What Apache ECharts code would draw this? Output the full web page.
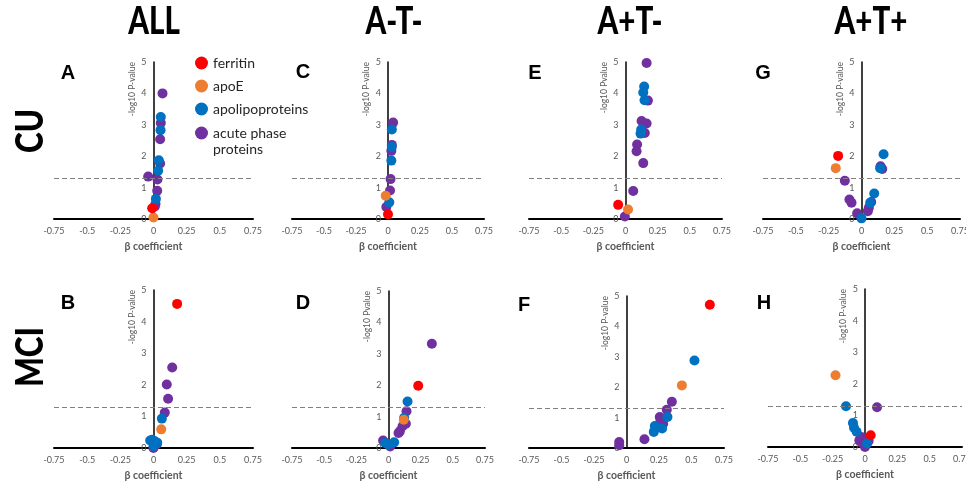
<!DOCTYPE html>
<html>
<head>
<meta charset="utf-8">
<script src="https://cdn.jsdelivr.net/npm/echarts@6/dist/echarts.min.js"></script>
<style>
html,body{margin:0;padding:0;background:#fff;}
#chart{width:966px;height:483px;}
</style>
</head>
<body>
<div id="chart"></div>
<script>
// ---- labels ----
const columnTitles = ['ALL', 'A-T-', 'A+T-', 'A+T+'];
const rowTitles = ['CU', 'MCI'];
const panelLetters = ['A', 'C', 'E', 'G', 'B', 'D', 'F', 'H'];
const yNames = ['-log10 P-value', '-log10 P-value', '-log10 Pvalue', '-log10 P-value',
                '-log10 P-value', '-log10 Pvalue', '-log10 P-value', '-log10 P-value'];
const xName = 'β coefficient';
const groupNames = ['ferritin', 'apoE', 'apolipoproteins', 'acute phase proteins'];
const threshold = 1.301; // -log10(0.05)

// ---- data: [β coefficient, -log10 P] ----
// A: CU / ALL
const A_ferritin = [[-0.01, 0.34]];
const A_apoE = [[0.0, 0.05]];
const A_apolipo = [[0.055, 3.25], [0.053, 2.83], [0.04, 1.87], [0.035, 1.54], [0.018, 0.64]];
const A_acute = [[0.068, 4.0], [0.055, 3.06], [0.05, 2.54], [0.05, 1.77], [-0.04, 1.35], [0.03, 1.26], [0.028, 0.9], [0.015, 0.48], [0.01, 0.4]];
// C: CU / A-T-
const C_ferritin = [[0.0, 0.15]];
const C_apoE = [[-0.018, 0.74]];
const C_apolipo = [[0.03, 2.85], [0.03, 2.3], [0.026, 1.86], [0.01, 0.53]];
const C_acute = [[0.04, 3.07], [0.03, 2.36], [0.026, 2.17], [0.02, 1.27], [0.016, 0.91], [-0.013, 0.38]];
// E: CU / A+T-
const E_ferritin = [[-0.057, 0.45]];
const E_apoE = [[0.02, 0.3]];
const E_apolipo = [[0.145, 4.22], [0.138, 4.03], [0.148, 3.78], [0.122, 2.85], [0.117, 2.72]];
const E_acute = [[0.164, 4.97], [0.174, 3.77], [0.125, 3.12], [0.164, 3.04], [0.15, 2.74], [0.09, 2.37], [0.086, 2.16], [0.138, 1.78], [0.06, 0.89], [-0.005, 0.08]];
// G: CU / A+T+
const G_ferritin = [[-0.178, 2.01]];
const G_apoE = [[-0.196, 1.62]];
const G_apolipo = [[0.168, 2.06], [0.142, 1.62], [0.097, 0.81], [0.066, 0.52], [0.0, 0.02]];
const G_acute = [[-0.127, 1.22], [0.145, 1.68], [0.158, 1.59], [-0.092, 0.62], [-0.076, 0.52], [0.074, 0.54], [0.056, 0.36], [0.048, 0.25], [-0.033, 0.18]];
// B: MCI / ALL
const B_ferritin = [[0.178, 4.56]];
const B_apoE = [[0.058, 0.59]];
const B_apolipo = [[0.063, 0.93], [-0.025, 0.24], [-0.01, 0.26], [0.01, 0.21], [0.028, 0.17], [0.0, 0.06]];
const B_acute = [[0.141, 2.55], [0.1, 2.01], [0.11, 1.56], [0.085, 1.12], [0.005, 0.14], [0.025, 0.12], [0.0, 0.0]];
// D: MCI / A-T-
const D_ferritin = [[0.231, 1.98]];
const D_apoE = [[0.119, 0.9]];
const D_apolipo = [[0.148, 1.48], [0.122, 0.96], [-0.026, 0.16], [0.044, 0.18], [-0.005, 0.12]];
const D_acute = [[0.337, 3.32], [0.14, 1.17], [0.135, 0.77], [0.109, 0.69], [0.088, 0.53], [0.078, 0.48], [-0.042, 0.24], [0.013, 0.05]];
// F: MCI / A+T-
const F_ferritin = [[0.641, 4.71]];
const F_apoE = [[0.426, 2.06]];
const F_apolipo = [[0.523, 2.88], [0.315, 1.02], [0.218, 0.72], [0.274, 0.64], [0.21, 0.53]];
const F_acute = [[0.349, 1.52], [0.31, 1.26], [0.256, 1.02], [0.262, 0.91], [0.282, 0.8], [0.138, 0.29], [-0.056, 0.2], [-0.056, 0.09]];
// H: MCI / A+T+
const H_ferritin = [[0.044, 0.37]];
const H_apoE = [[-0.228, 2.27]];
const H_apolipo = [[-0.147, 1.29], [-0.093, 0.76], [-0.085, 0.61], [-0.065, 0.48], [0.016, 0.11]];
const H_acute = [[0.093, 1.26], [-0.044, 0.21], [-0.03, 0.32], [-0.018, 0.11], [0.028, 0.19], [0.0, 0.0]];

const panelData = {
  A: [A_ferritin, A_apoE, A_apolipo, A_acute],
  C: [C_ferritin, C_apoE, C_apolipo, C_acute],
  E: [E_ferritin, E_apoE, E_apolipo, E_acute],
  G: [G_ferritin, G_apoE, G_apolipo, G_acute],
  B: [B_ferritin, B_apoE, B_apolipo, B_acute],
  D: [D_ferritin, D_apoE, D_apolipo, D_acute],
  F: [F_ferritin, F_apoE, F_apolipo, F_acute],
  H: [H_ferritin, H_apoE, H_apolipo, H_acute]
};

// ---- layout & style ----
const colors = ['#FF0000', '#ED7D31', '#0070C0', '#7030A0'];
const X_MIN = -0.75, X_MAX = 0.75;
const gridBoxes = [
  {left: 54, top: 62, width: 199, height: 157},
  {left: 292, top: 62, width: 192, height: 157},
  {left: 529, top: 62, width: 193, height: 157},
  {left: 763, top: 62, width: 197, height: 157},
  {left: 54, top: 290, width: 199, height: 158},
  {left: 292, top: 291, width: 193, height: 157},
  {left: 529, top: 296, width: 195, height: 152},
  {left: 768, top: 289, width: 194, height: 158}
];
const letterPos = [[68, 73], [303, 72], [535, 73], [763, 73], [68, 303], [303, 303], [524, 305], [764, 303]];
const headerPos = [[154, 22], [394, 22], [630, 22], [871, 22]];
const rowPos = [[31, 131], [31, 357]];
const FONT = 'Lato, "Open Sans", sans-serif';
const HEAVY = 'Lato, "Liberation Sans", sans-serif';

const grids = [], xAxes = [], yAxes = [], series = [], graphics = [];
panelLetters.forEach((letter, i) => {
  const box = gridBoxes[i];
  grids.push(Object.assign({outerBoundsMode: 'none', containLabel: false}, box));
  xAxes.push({
    gridIndex: i, type: 'value', min: X_MIN, max: X_MAX, interval: 0.25,
    axisLine: {onZero: false, lineStyle: {color: '#000', width: 2}},
    axisTick: {show: false}, splitLine: {show: false},
    axisLabel: {color: '#595959', fontSize: 9, margin: 8, fontFamily: FONT},
    name: xName, nameLocation: 'middle', nameGap: 22,
    nameTextStyle: {color: '#595959', fontWeight: 'bold', fontSize: 10.5, fontFamily: FONT}
  });
  // y axis drawn at beta = 0 (vertical axis through the origin)
  yAxes.push({
    gridIndex: i, type: 'value', min: 0, max: 5, interval: 1,
    offset: -box.width * (0 - X_MIN) / (X_MAX - X_MIN),
    axisLine: {show: true, onZero: false, lineStyle: {color: '#000', width: 1.5}},
    axisTick: {show: false}, splitLine: {show: false},
    axisLabel: {color: '#595959', fontSize: 9, margin: 7, fontFamily: FONT},
    name: yNames[i], nameLocation: 'end', nameRotate: 90, nameGap: 0,
    nameTextStyle: {color: '#595959', fontSize: 8.5, fontFamily: FONT,
      align: 'right', verticalAlign: 'bottom', padding: [0, 0, 17, 0]}
  });
  const d = panelData[letter];
  // draw order: acute phase, apolipoproteins, apoE, ferritin (ferritin on top)
  [3, 2, 1, 0].forEach(g => {
    const s = {
      type: 'scatter', name: groupNames[g], xAxisIndex: i, yAxisIndex: i,
      data: d[g], symbol: 'circle', symbolSize: 10, clip: false,
      itemStyle: {color: colors[g], opacity: 1}
    };
    if (g === 3) {
      s.markLine = {
        silent: true, symbol: ['none', 'none'], label: {show: false},
        lineStyle: {type: [5, 3], color: '#808080', width: 1.2},
        data: [{yAxis: threshold}], animation: false
      };
    }
    series.push(s);
  });
  graphics.push({
    type: 'text', x: letterPos[i][0], y: letterPos[i][1],
    style: {text: letter, fontSize: 20, fontWeight: 'bold', fontFamily: '"Liberation Sans", Arial, sans-serif',
      fill: '#000', align: 'center', verticalAlign: 'middle'}
  });
});
columnTitles.forEach((t, i) => {
  graphics.push({
    type: 'text', x: headerPos[i][0], y: headerPos[i][1], scaleX: 0.8,
    style: {text: t, fontSize: 37, fontWeight: 900, fontFamily: HEAVY,
      fill: '#000', align: 'center', verticalAlign: 'middle'}
  });
});
rowTitles.forEach((t, i) => {
  graphics.push({
    type: 'text', x: rowPos[i][0], y: rowPos[i][1], rotation: Math.PI / 2, scaleX: 0.85,
    style: {text: t, fontSize: 37, fontWeight: 900, fontFamily: HEAVY,
      fill: '#000', align: 'center', verticalAlign: 'middle'}
  });
});

const legendText = {fontSize: 14, color: '#262626', fontFamily: FONT, lineHeight: 16};
const chart = echarts.init(document.getElementById('chart'));
chart.setOption({
  animation: false,
  backgroundColor: '#fff',
  legend: [
    {
      orient: 'vertical', left: 195, top: 55, padding: 0, icon: 'circle',
      itemWidth: 13, itemHeight: 13, itemGap: 7, textStyle: legendText,
      data: ['ferritin', 'apoE', 'apolipoproteins']
    },
    {
      orient: 'vertical', left: 195, top: 109, padding: 0, icon: 'circle',
      itemWidth: 13, itemHeight: 13, itemGap: 7, textStyle: legendText,
      formatter: n => ' \nacute phase\nproteins',
      data: ['acute phase proteins']
    }
  ],
  grid: grids, xAxis: xAxes, yAxis: yAxes, series: series, graphic: graphics
});
</script>
</body>
</html>
